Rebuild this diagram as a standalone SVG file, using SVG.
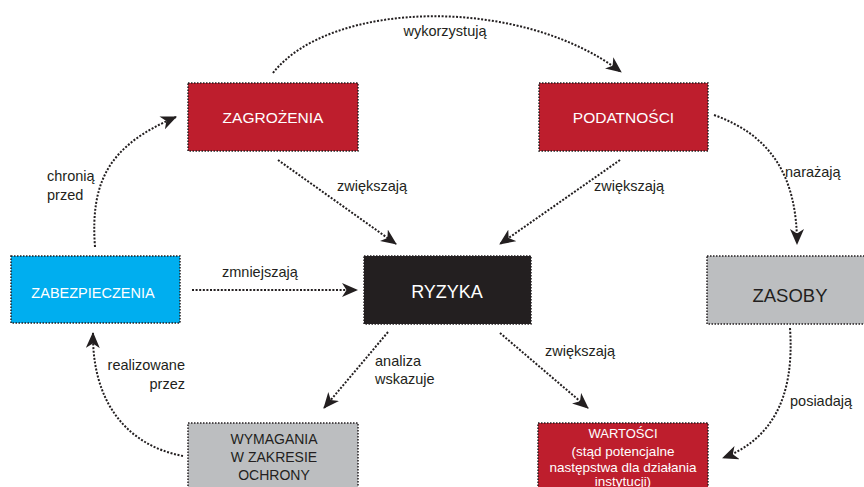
<svg xmlns="http://www.w3.org/2000/svg" width="864" height="487" viewBox="0 0 864 487">
<style>
.box{stroke:#231f20;stroke-width:1.5;stroke-dasharray:1.5 1.5}
.red{fill:#be1e2d}.blue{fill:#00aeef}.blk{fill:#231f20}.gray{fill:#bcbec0}
.t{font-family:"Liberation Sans",Arial,sans-serif;text-anchor:middle}
.w{fill:#ffffff}.d{fill:#231f20}
.lbl{font-family:"Liberation Sans",Arial,sans-serif;font-size:14.5px;fill:#231f20}
.c{fill:none;stroke:#231f20;stroke-width:2;stroke-dasharray:2 1.6;marker-end:url(#ah)}
</style>
<defs>
<marker id="ah" markerUnits="userSpaceOnUse" viewBox="0 0 16 14" refX="15" refY="7" markerWidth="16" markerHeight="14" orient="auto">
<path d="M16,7 L0,0 L4.5,7 L0,14 Z" fill="#231f20"/>
</marker>
</defs>
<rect width="864" height="487" fill="#ffffff"/>
<g id="connectors">
<path class="c" d="M273,73 C330,0 520,-5 621,72"/>
<path class="c" d="M278,160 L396,244"/>
<path class="c" d="M620,160 L500,244"/>
<path class="c" d="M714,115 C770,135 797,175 797,244"/>
<path class="c" d="M95,247 C90,180 110,145 176,117"/>
<path class="c" d="M192,290 L357,290"/>
<path class="c" d="M388,332 L324,408"/>
<path class="c" d="M500,333 L588,408"/>
<path class="c" d="M183,456 C125,445 92,400 93,333"/>
<path class="c" d="M790,328 C795,400 770,440 723,458"/>
</g>
<g id="labels">
<text class="lbl" x="445" y="36" text-anchor="middle">wykorzystują</text>
<text class="lbl" x="337" y="191">zwiększają</text>
<text class="lbl" x="594" y="191">zwiększają</text>
<text class="lbl" x="785" y="177">narażają</text>
<text class="lbl" x="47" y="181">chronią</text>
<text class="lbl" x="47" y="200">przed</text>
<text class="lbl" x="222" y="277">zmniejszają</text>
<text class="lbl" x="375" y="366">analiza</text>
<text class="lbl" x="375" y="384">wskazuje</text>
<text class="lbl" x="545" y="356">zwiększają</text>
<text class="lbl" x="185" y="370" text-anchor="end">realizowane</text>
<text class="lbl" x="185" y="389" text-anchor="end">przez</text>
<text class="lbl" x="790" y="406">posiadają</text>
</g>
<g id="zagrozenia">
<rect class="box red" x="188" y="83" width="170" height="68"/>
<text class="t w" x="273" y="123" font-size="15.5">ZAGROŻENIA</text>
</g>
<g id="podatnosci">
<rect class="box red" x="539" y="83" width="169" height="68"/>
<text class="t w" x="623.5" y="123" font-size="15.5">PODATNOŚCI</text>
</g>
<g id="zabezpieczenia">
<rect class="box blue" x="11" y="256" width="169" height="67"/>
<text class="t w" x="93" y="298" font-size="14.5">ZABEZPIECZENIA</text>
</g>
<g id="ryzyka">
<rect class="box blk" x="364" y="256" width="167" height="68"/>
<text class="t w" x="447" y="298" font-size="18">RYZYKA</text>
</g>
<g id="zasoby">
<rect class="box gray" x="707" y="256" width="170" height="68"/>
<text class="t d" x="790" y="302" font-size="18.5">ZASOBY</text>
</g>
<g id="wymagania">
<rect class="box gray" x="188" y="423" width="170" height="70"/>
<text class="t d" x="274" y="444" font-size="14">WYMAGANIA</text>
<text class="t d" x="274" y="462" font-size="14">W ZAKRESIE</text>
<text class="t d" x="274" y="480" font-size="14">OCHRONY</text>
</g>
<g id="wartosci">
<rect class="box red" x="538" y="423" width="170" height="70"/>
<text class="t w" x="623" y="438" font-size="13">WARTOŚCI</text>
<text class="t w" x="623" y="456" font-size="13.5">(stąd potencjalne</text>
<text class="t w" x="623" y="471.5" font-size="13.5">następstwa dla działania</text>
<text class="t w" x="623" y="486" font-size="13.5">instytucji)</text>
</g>
</svg>
